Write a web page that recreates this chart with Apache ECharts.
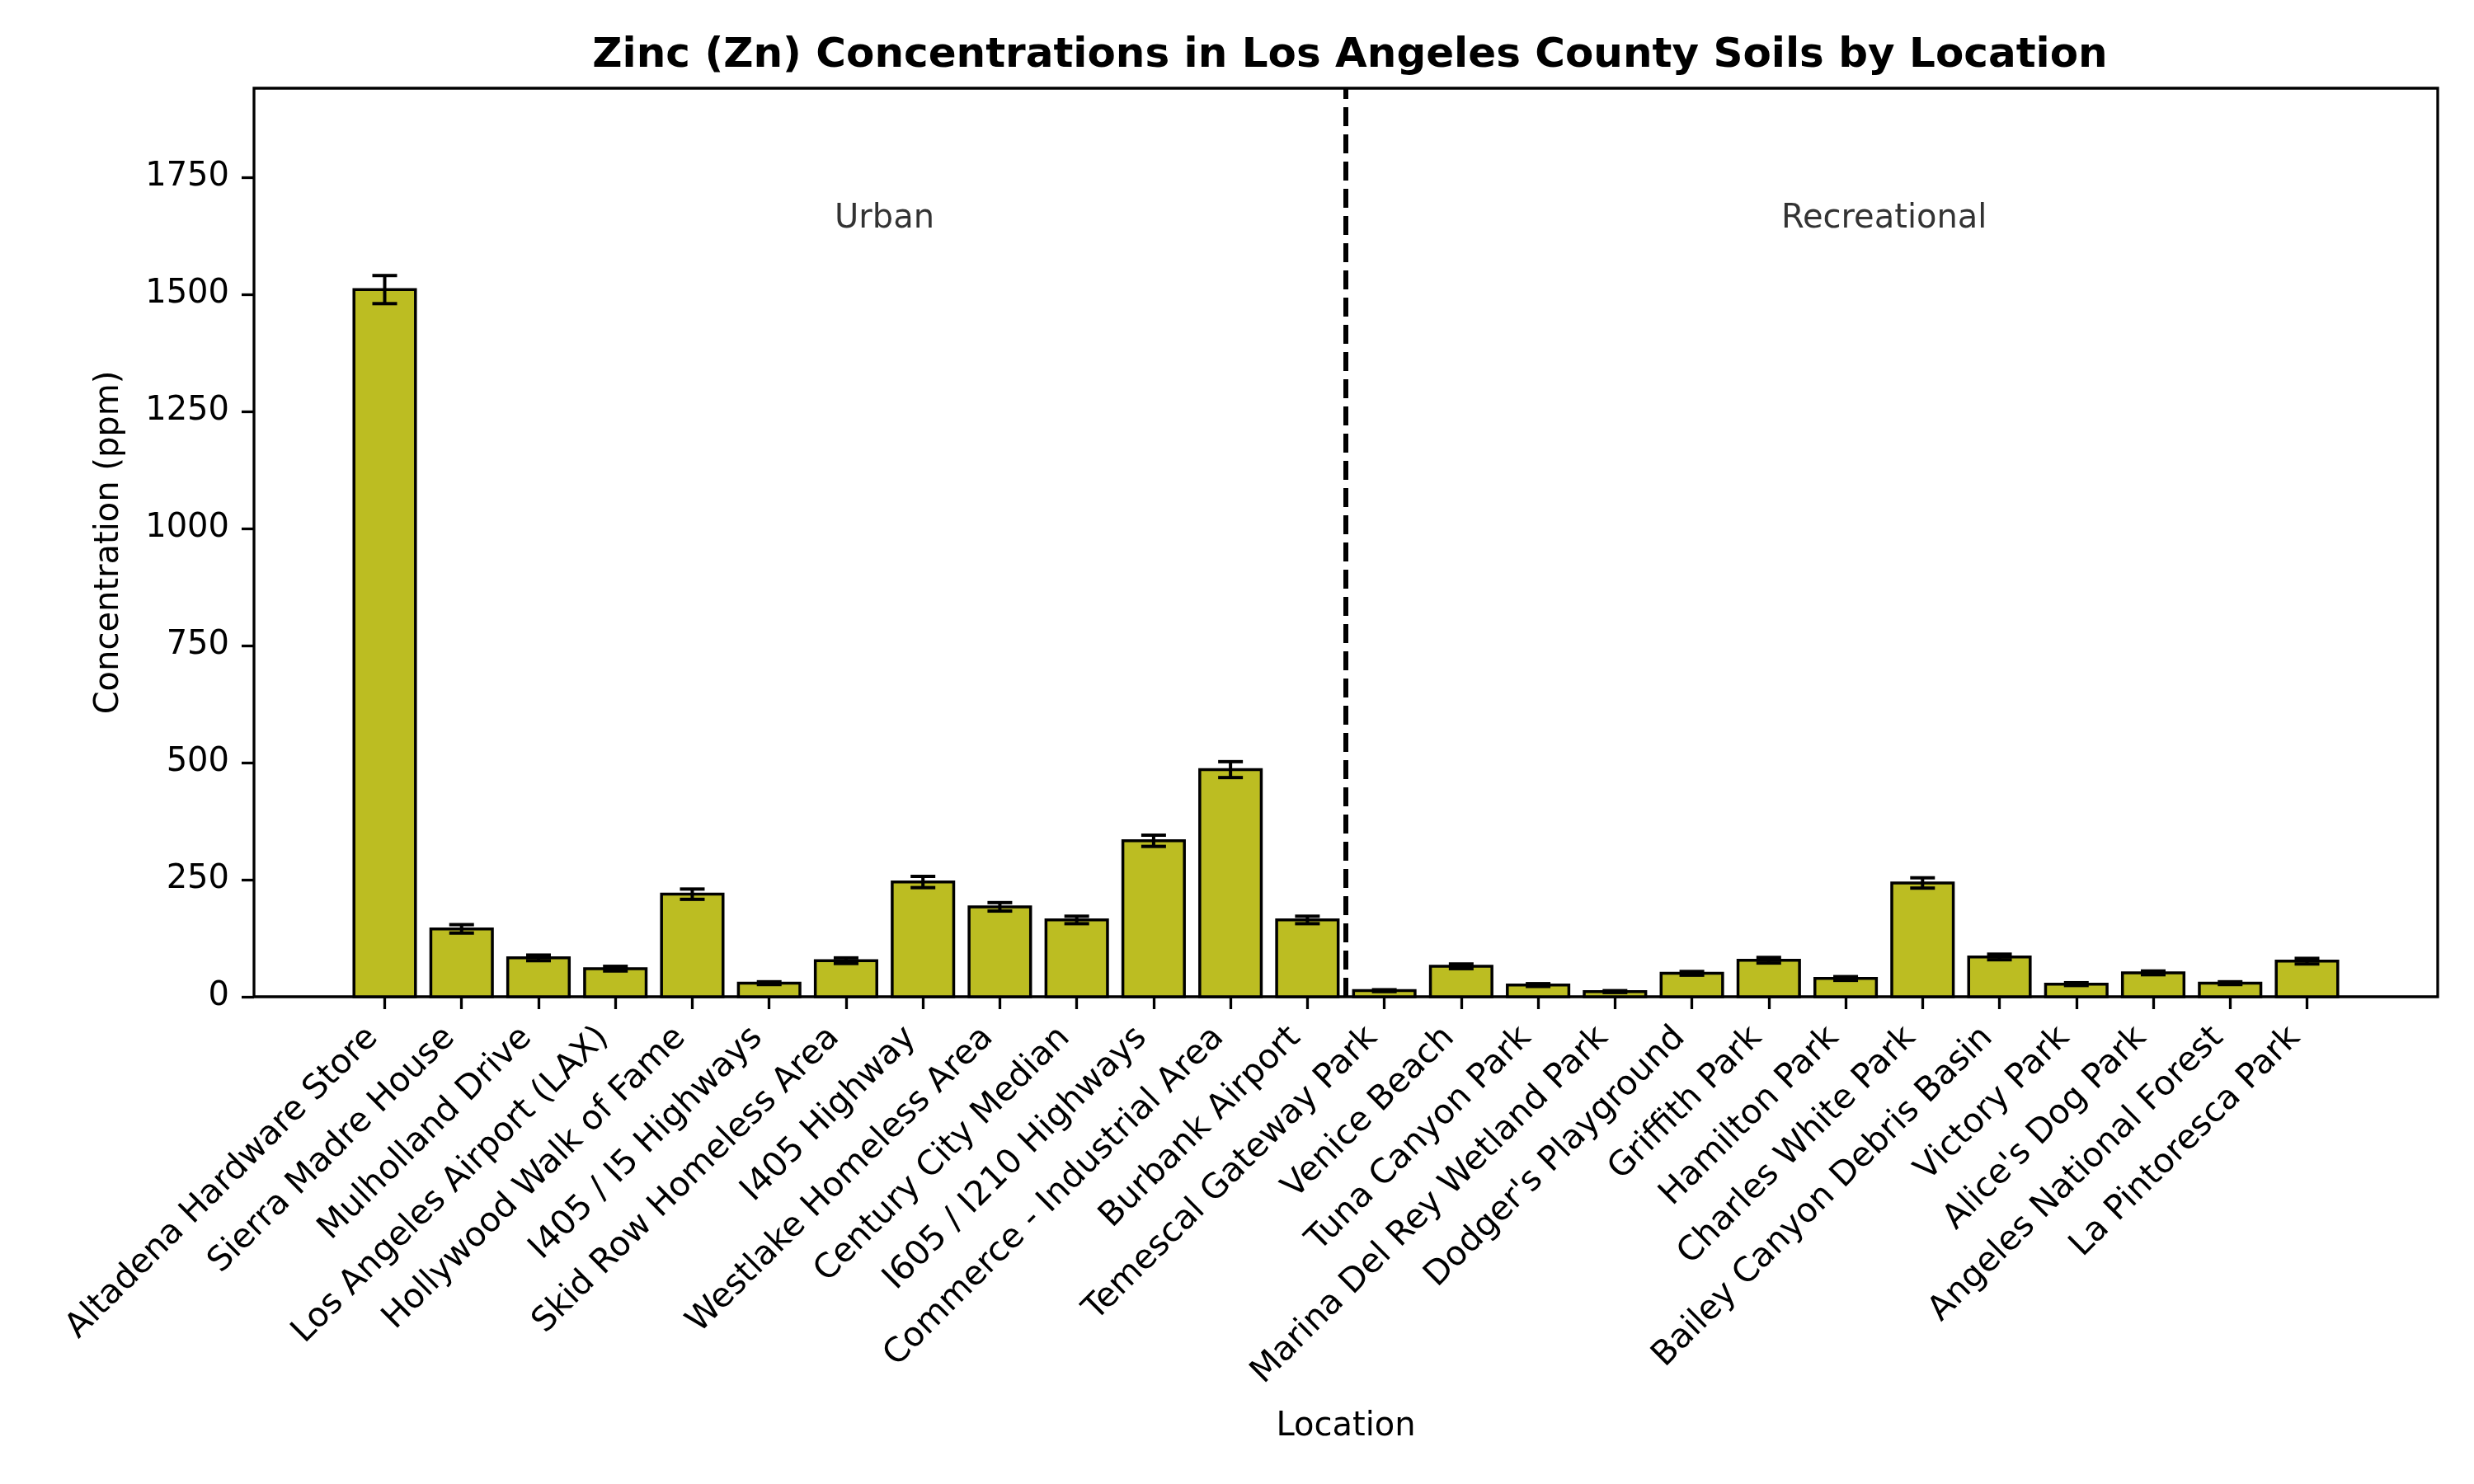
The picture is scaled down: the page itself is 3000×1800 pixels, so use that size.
<!DOCTYPE html>
<html>
<head>
<meta charset="utf-8">
<script src="https://cdn.jsdelivr.net/npm/echarts@6/dist/echarts.min.js"></script>
<style>
  html, body { margin: 0; padding: 0; background: #fff; }
  #chart { width: 3000px; height: 1800px; }
</style>
</head>
<body>
<div id="chart"></div>
<script>
// Zn concentrations (ppm) with error, split into two groups
const urbanNames = [
    'Altadena Hardware Store', 'Sierra Madre House', 'Mulholland Drive',
    'Los Angeles Airport (LAX)', 'Hollywood Walk of Fame', 'I405 / I5 Highways',
    'Skid Row Homeless Area', 'I405 Highway', 'Westlake Homeless Area',
    'Century City Median', 'I605 / I210 Highways', 'Commerce - Industrial Area',
    'Burbank Airport'
];
const urbanValues = [1510, 145, 83, 60, 219, 29, 77, 245, 192, 164, 333, 485, 164];
const urbanErrors = [30, 9, 6, 5, 11, 3, 6, 12, 9, 8, 12, 17, 8];

const recNames = [
    'Temescal Gateway Park', 'Venice Beach', 'Tuna Canyon Park',
    'Marina Del Rey Wetland Park', "Dodger's Playground", 'Griffith Park',
    'Hamilton Park', 'Charles White Park', 'Bailey Canyon Debris Basin',
    'Victory Park', "Alice's Dog Park", 'Angeles National Forest',
    'La Pintoresca Park'
];
const recValues = [13, 65, 25, 11, 50, 78, 39, 243, 85, 27, 51, 29, 76];
const recErrors = [2, 5, 3, 2, 4, 6, 4, 11, 6, 3, 4, 3, 6];

const yTicks = [0, 250, 500, 750, 1000, 1250, 1500, 1750];
const groupLabels = ['Urban', 'Recreational'];

const names = urbanNames.concat(recNames);
const values = urbanValues.concat(recValues);
const errors = urbanErrors.concat(recErrors);
const indices = names.map((_, i) => i);

const font = 'DejaVu Sans';
const barWidth = 0.8;
const labelY = 1661;

const chart = echarts.init(document.getElementById('chart'), null, {renderer: 'canvas'});

const renderBar = (params, api) => {
    const i = api.value(0);
    const v = api.value(1);
    const base = api.coord([i, 0]);
    const top = api.coord([i, v]);
    const w = api.size([barWidth, 0])[0];
    return {
        type: 'rect',
        shape: {x: base[0] - w / 2, y: top[1], width: w, height: base[1] - top[1]},
        style: {fill: '#bcbd22', stroke: '#000', lineWidth: 3.5}
    };
};

const renderError = (params, api) => {
    const i = api.value(0);
    const v = api.value(1);
    const e = api.value(2);
    const hi = api.coord([i, v + e]);
    const lo = api.coord([i, v - e]);
    const cap = 15;
    const style = {stroke: '#000', lineWidth: 4};
    return {
        type: 'group',
        children: [
            {type: 'line', shape: {x1: hi[0], y1: hi[1], x2: lo[0], y2: lo[1]}, style},
            {type: 'line', shape: {x1: hi[0] - cap, y1: hi[1], x2: hi[0] + cap, y2: hi[1]}, style},
            {type: 'line', shape: {x1: lo[0] - cap, y1: lo[1], x2: lo[0] + cap, y2: lo[1]}, style}
        ]
    };
};

chart.setOption({
    animation: false,
    backgroundColor: '#fff',
    textStyle: {fontFamily: font},
    title: {
        text: 'Zinc (Zn) Concentrations in Los Angeles County Soils by Location',
        left: 1632,
        textAlign: 'center',
        top: 38,
        textStyle: {fontFamily: font, fontSize: 50, fontWeight: 'bold', color: '#000'}
    },
    grid: {
        left: 308, right: 44, top: 107, bottom: 591,
        show: true, borderColor: '#000', borderWidth: 3.3,
        containLabel: false
    },
    xAxis: {
        type: 'value',
        min: -1.7,
        max: 26.7,
        name: 'Location',
        nameLocation: 'middle',
        nameGap: 502,
        nameTextStyle: {fontFamily: font, fontSize: 40, color: '#000'},
        axisLine: {show: false, onZero: false},
        splitLine: {show: false},
        axisTick: {
            show: true, length: 15, customValues: indices,
            lineStyle: {color: '#000', width: 3.3}
        },
        axisLabel: {
            customValues: indices,
            rotate: 45,
            align: 'right',
            verticalAlign: 'bottom',
            margin: 58,
            fontFamily: font,
            fontSize: 41,
            color: '#000',
            formatter: (v) => names[v]
        }
    },
    yAxis: {
        type: 'value',
        min: 0,
        max: 1940,
        name: 'Concentration (ppm)',
        nameLocation: 'middle',
        nameGap: 155,
        nameTextStyle: {fontFamily: font, fontSize: 40, color: '#000'},
        axisLine: {show: false, onZero: false},
        splitLine: {show: false},
        axisTick: {
            show: true, length: 15, customValues: yTicks,
            lineStyle: {color: '#000', width: 3.3}
        },
        axisLabel: {
            customValues: yTicks,
            margin: 30,
            fontFamily: font,
            fontSize: 40,
            color: '#000',
            formatter: (v) => String(v)
        }
    },
    series: [
        {
            type: 'custom',
            renderItem: renderBar,
            data: indices.map(i => [i, values[i]]),
            z: 2
        },
        {
            type: 'custom',
            renderItem: renderError,
            data: indices.map(i => [i, values[i], errors[i]]),
            z: 3
        },
        {
            type: 'scatter',
            symbolSize: 0,
            silent: true,
            z: 4,
            data: [
                [urbanNames.length / 2, labelY, groupLabels[0]],
                [urbanNames.length + recNames.length / 2, labelY, groupLabels[1]]
            ],
            label: {
                show: true,
                position: 'inside',
                formatter: (p) => p.value[2],
                fontFamily: font,
                fontSize: 40,
                color: '#000'
            },
            markLine: {
                silent: true,
                symbol: ['none', 'none'],
                label: {show: false},
                lineStyle: {color: '#000', type: [23, 10], width: 6},
                data: [{xAxis: urbanNames.length - 0.5}]
            }
        }
    ]
});
</script>
</body>
</html>
